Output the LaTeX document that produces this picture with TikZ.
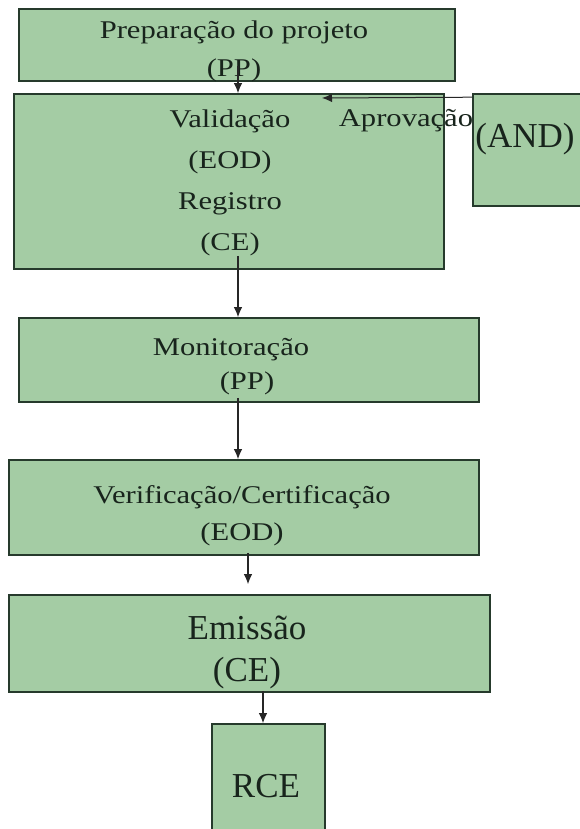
\documentclass[tikz,border=0pt]{standalone}
\usepackage{fontspec}
\setmainfont{Liberation Serif}
\newfontfamily\largo[FakeStretch=1.2]{Liberation Serif}
\usetikzlibrary{positioning}
\usetikzlibrary{arrows.meta}
\definecolor{verde}{RGB}{164,204,164}
\definecolor{borda}{RGB}{38,58,44}
\definecolor{tinta}{RGB}{24,36,28}

\begin{document}
\begin{tikzpicture}[x=1pt,y=-1pt,
  etapa/.style = {draw=borda, fill=verde, line width=1.6pt, inner sep=0pt},
  txt/.style = {text=tinta, align=center, inner sep=0pt, font=\largo\fontsize{25.5}{38}\selectfont},
  txtg/.style = {text=tinta, align=center, inner sep=0pt, font=\fontsize{35}{42}\selectfont},
  seta/.style = {-{Latex[length=10pt,width=8.5pt]}, line width=1.2pt, draw=black!85}]
        \useasboundingbox (0,0) rectangle (579,829);
        % caixas
        \node[etapa, minimum width=436pt, minimum height=72pt] (prep) at (237,45) {};
        \node[etapa, minimum width=430pt, minimum height=175pt] (valid) at (229,181.5) {};
        \node[etapa, minimum width=118pt, minimum height=112pt] (and) at (532,150) {};
        \node[etapa, minimum width=460pt, minimum height=84pt] (monit) at (249,360) {};
        \node[etapa, minimum width=470pt, minimum height=95pt] (verif) at (244,507.5) {};
        \node[etapa, minimum width=481pt, minimum height=97pt] (emis) at (249.5,643.5) {};
        \node[etapa, minimum width=113pt, minimum height=126pt] (rce) at (268.5,787) {};
        % textos
        \node[txt] (t-prep) at (234,51) {Preparação do projeto\\(PP)};
        \node[txt, font=\largo\fontsize{25.5}{41}\selectfont] (t-valid) at (230,183) {Validação\\(EOD)\\Registro\\(CE)};
        \node[txt] (t-aprov) at (406,121) {Aprovação};
        \node[txtg] (t-and) at (525,139) {(AND)};
        \node[txt, font=\largo\fontsize{25.5}{34}\selectfont] (t-monit) at (231,367) {Monitoração\\\hspace*{32pt}(PP)};
        \node[txt, font=\largo\fontsize{25.5}{37}\selectfont] (t-verif) at (242,516) {Verificação/Certificação\\(EOD)};
        \node[txtg] (t-emis) at (247,652) {Emissão\\(CE)};
        \node[txtg] (t-rce) at (266,786) {RCE};
        % setas
        \coordinate (aprov-fim) at (322,98);
        \draw[seta, line width=1pt] ([yshift=-4pt]and.north west) -- (aprov-fim);
        \draw[seta] ([xshift=1pt,yshift=16pt]prep.south) -- ([xshift=1pt]prep.south |- valid.north);
        \draw[seta] ([xshift=9pt,yshift=14pt]valid.south) -- ([xshift=9pt]valid.south |- monit.north);
        \draw[seta] ([xshift=-11pt,yshift=5pt]monit.south) -- ([xshift=-11pt]monit.south |- verif.north);
        \draw[seta] ([xshift=4pt,yshift=3pt]verif.south) -- ([xshift=4pt,yshift=10pt]verif.south |- emis.north);
        \draw[seta] ([xshift=13.5pt,yshift=2pt]emis.south) -- ([xshift=13.5pt]emis.south |- rce.north);
\end{tikzpicture}
\end{document}
